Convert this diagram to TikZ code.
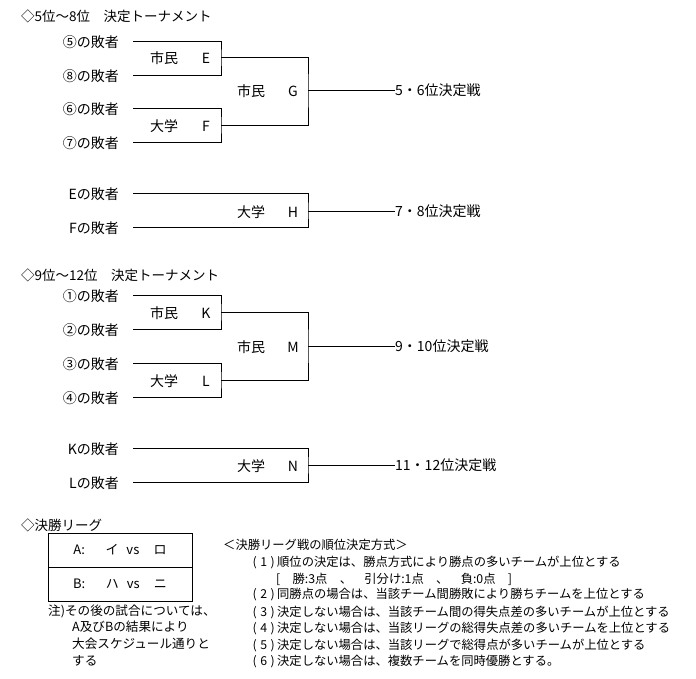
\documentclass[tikz,border=0pt]{standalone}
\usepackage{fontspec}
\setmainfont{Noto Sans CJK JP}
\newcommand\rno[1]{\makebox[9pt][c]{(}\makebox[9pt][c]{#1}\makebox[9pt][c]{)}}
\begin{document}
\begin{tikzpicture}[x=1pt,y=-1pt,
  every node/.style={inner sep=0pt},
  big/.style={font=\fontsize{14}{16}\selectfont},
  head/.style={font=\fontsize{13.5}{16}\selectfont, anchor=west},
  small/.style={font=\fontsize{12.3}{14}\selectfont, anchor=west},
  note/.style={font=\fontsize{12.6}{14}\selectfont, anchor=west},
  lose/.style={big, anchor=east},
  res/.style={big, anchor=west},
  wire/.style={draw=black, line width=1pt},
  leag/.style={draw=black, line width=1pt, minimum width=144pt, minimum height=34pt, font=\fontsize{13}{15}\selectfont}]
\useasboundingbox (0,0) rectangle (696,678);
\fill[white] (0,0) rectangle (696,678);

% ---------- 5-8
\node[head] (t1) at (21,16) {◇5位～8位　決定トーナメント};
\node[lose] (l5) at (119,42) {⑤の敗者};
\node[lose] (l8) at (119,76) {⑧の敗者};
\node[lose] (l6) at (119,109) {⑥の敗者};
\node[lose] (l7) at (119,143) {⑦の敗者};
\coordinate (a5) at (133,41);
\coordinate (a8) at (133,75);
\coordinate (a6) at (133,108);
\coordinate (a7) at (133,142);
\coordinate (E) at (221,57);
\coordinate (F) at (221,125);
\coordinate (G) at (308,90);
\coordinate (r1) at (395,90);
\draw[wire] (a5) -| (E) |- (a8);
\draw[wire] (a6) -| (F) |- (a7);
\draw[wire] (E) -| (G) |- (F);
\draw[wire] (G) -- (r1);
\node[big,anchor=west] (nE) at (150,58) {市民};
\node[big] (xE) at (206,58) {E};
\node[big,anchor=west] (nF) at (150,126) {大学};
\node[big] (xF) at (206,126) {F};
\node[big,anchor=west] (nG) at (237,91) {市民};
\node[big] (xG) at (293,91) {G};
\node[res] (o1) at (r1) {5・6位決定戦};

\node[lose] (le) at (119,194) {Eの敗者};
\node[lose] (lf) at (119,228) {Fの敗者};
\coordinate (ae) at (133,193);
\coordinate (af) at (133,227);
\coordinate (H) at (308,211);
\coordinate (r2) at (395,211);
\draw[wire] (ae) -| (H) |- (af);
\draw[wire] (H) -- (r2);
\node[big,anchor=west] (nH) at (237,212) {大学};
\node[big] (xH) at (293,212) {H};
\node[res] (o2) at (r2) {7・8位決定戦};

% ---------- 9-12
\node[head] (t2) at (21,275) {◇9位～12位　決定トーナメント};
\node[lose] (l1) at (119,296) {①の敗者};
\node[lose] (l2) at (119,330) {②の敗者};
\node[lose] (l3) at (119,364) {③の敗者};
\node[lose] (l4) at (119,398) {④の敗者};
\coordinate (a1) at (133,295);
\coordinate (a2) at (133,329);
\coordinate (a3) at (133,363);
\coordinate (a4) at (133,397);
\coordinate (K) at (221,312);
\coordinate (L) at (221,380);
\coordinate (M) at (308,346);
\coordinate (r3) at (395,346);
\draw[wire] (a1) -| (K) |- (a2);
\draw[wire] (a3) -| (L) |- (a4);
\draw[wire] (K) -| (M) |- (L);
\draw[wire] (M) -- (r3);
\node[big,anchor=west] (nK) at (150,313) {市民};
\node[big] (xK) at (206,313) {K};
\node[big,anchor=west] (nL) at (150,381) {大学};
\node[big] (xL) at (206,381) {L};
\node[big,anchor=west] (nM) at (237,347) {市民};
\node[big] (xM) at (293,347) {M};
\node[res] (o3) at (r3) {9・10位決定戦};

\node[lose] (lk) at (119,449) {Kの敗者};
\node[lose] (ll) at (119,483) {Lの敗者};
\coordinate (ak) at (133,448);
\coordinate (al) at (133,482);
\coordinate (N) at (308,465);
\coordinate (r4) at (395,465);
\draw[wire] (ak) -| (N) |- (al);
\draw[wire] (N) -- (r4);
\node[big,anchor=west] (nN) at (237,466) {大学};
\node[big] (xN) at (293,466) {N};
\node[res] (o4) at (r4) {11・12位決定戦};

% ---------- league
\node[head] (t3) at (21,525) {◇決勝リーグ};
\node[leag] (ra) at (120,550) {A:\hspace{1.6em}イ\hspace{0.6em}vs\hspace{1.1em}ロ};
\node[leag] (rb) at (120,584) {B:\hspace{1.6em}ハ\hspace{0.6em}vs\hspace{1.1em}ニ};
\node[note] (n1) at (48,611) {注)その後の試合については、};
\node[note] (n2) at (72,627) {A及びBの結果により};
\node[note] (n3) at (72,644) {大会スケジュール通りと};
\node[note] (n4) at (72,661) {する};

\node[small] (h0) at (223,545) {＜決勝リーグ戦の順位決定方式＞};
\node[small] (h1) at (250,562) {\rno{1}順位の決定は、勝点方式により勝点の多いチームが上位とする};
\node[small] (h1b) at (276,579) {[\hspace{1em}勝:3点\hspace{1em}、\hspace{1em}引分け:1点\hspace{1em}、\hspace{1em}負:0点\hspace{1em}]};
\node[small] (h2) at (250,595) {\rno{2}同勝点の場合は、当該チーム間勝敗により勝ちチームを上位とする};
\node[small] (h3) at (250,612) {\rno{3}決定しない場合は、当該チーム間の得失点差の多いチームが上位とする};
\node[small] (h4) at (250,629) {\rno{4}決定しない場合は、当該リーグの総得失点差の多いチームを上位とする};
\node[small] (h5) at (250,645) {\rno{5}決定しない場合は、当該リーグで総得点が多いチームが上位とする};
\node[small] (h6) at (250,662) {\rno{6}決定しない場合は、複数チームを同時優勝とする。};
\end{tikzpicture}
\end{document}
